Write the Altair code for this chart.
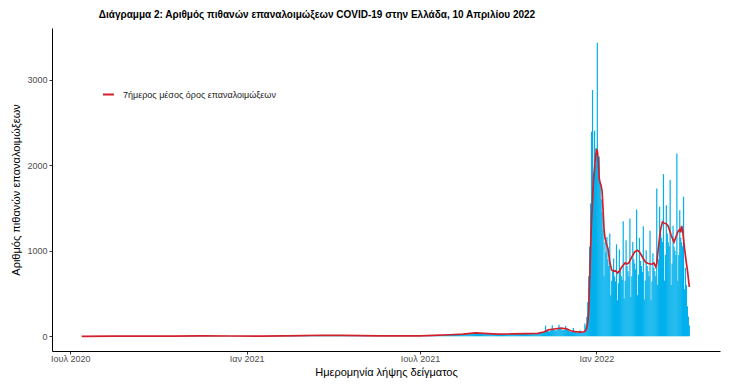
import altair as alt
import pandas as pd

# ---------------- data (daily counts) ----------------
jul_2020 = [0,0,1,0,1,0,0,0,1,0, 0,2,0,1,0,0,0,1,0,0, 1,0,0,2,1]          # from 7 Jul
aug_2020 = [0,1,0,2,1,0,0,1,0,3, 1,0,2,0,1,1,0,2,1,0, 0,1,3,1,0,2,1,0,1,2, 0]
sep_2020 = [1,2,0,1,3,1,0,2,1,0, 3,2,1,0,2,1,3,0,1,2, 0,1,3,2,0,1,2,1,0,3]
oct_2020 = [2,1,0,3,2,1,1,4,2,0, 1,3,2,1,4,2,0,1,3,2, 4,1,0,2,3,1,4,2,1,3, 2]
nov_2020 = [3,2,4,1,5,3,2,4,6,3, 1,4,5,2,3,6,4,2,5,3, 4,6,2,3,5,4,2,3,5,3]
dec_2020 = [4,2,3,5,2,1,4,3,2,5, 3,1,2,4,3,1,2,3,4,2, 1,3,2,1,0,2,3,1,2,3, 1]
jan_2021 = [1,0,2,3,1,2,4,2,1,3, 2,1,3,4,2,1,3,2,4,3, 1,2,4,3,2,3,4,2,3,5, 2]
feb_2021 = [4,3,5,2,4,6,3,5,4,6, 3,5,7,4,6,5,8,4,6,7, 5,8,6,9,7,5,8,9]
mar_2021 = [10,7,12,9,11,8,13,10,12,9, 14,11,8,13,15,10,12,14,9,13, 16,11,12,15,10,14,13,9,12,15, 11]
apr_2021 = [13,10,14,12,9,15,11,13,10,12, 14,9,11,13,10,8,12,11,9,10, 8,11,9,7,10,8,9,7,8,6]
may_2021 = [7,5,8,6,4,7,5,6,8,4, 5,7,6,3,5,6,4,5,7,3, 4,6,5,3,4,5,2,4,6,3, 4]
jun_2021 = [3,4,2,5,3,2,4,3,5,2, 3,4,2,3,5,4,2,3,4,5, 3,4,6,3,5,4,6,5,4,6]
jul_2021 = [5,7,6,4,8,9,7,10,8,11, 9,12,10,14,11,13,15,12,10,16, 14,17,13,15,18,14,16,19,15,17, 20]
aug_2021 = [18,22,19,25,21,24,20,26,23,28, 22,27,25,30,24,28,31,26,29,33, 27,32,35,30,38,42,36,40,45,38, 41]
sep_2021 = [36,40,33,37,30,35,32,28,34,30, 26,31,29,25,30,27,24,28,26,22, 27,25,21,26,23,20,25,22,24,27]
oct_2021 = [25,28,22,26,30,24,27,29,23,31, 27,25,32,28,24,30,33,26,29,35, 28,31,27,34,30,36,29,33,38,31, 35]
nov_2021 = [38,45,40,36,42,50,48,60,125,70, 65,58,55,62,80,130,85,78,70,66, 72,88,135,90,84,76,70,74,82,120]
dec_2021 = [85,72,65,58,50,55,62,98,60,52, 45,42,40,48,70,50,45,40,38,150,
            120,226,400,700,1045,1550,2390,2877,1900,2400, 2000]
jan_2022 = [2200,3430,2080,2100,1790,1600,1450,1245,700,1100,
            980,1160,900,820,1200,480,650,760,908,700,
            640,1075,420,620,1014,780,700,660,1345,440, 650]
feb_2022 = [1123,820,760,700,1376,460,700,1103,900,850,
            780,1482,480,720,1150,880,820,750,1286,430,
            650,1005,820,760,700,1232,420,640]
mar_2022 = [970,800,760,700,1727,600,900,1512,1200,1150,
            1100,1895,650,950,1532,1200,1100,1050,1825,600,
            850,1290,1050,1000,950,2137,650,950,1474,1150, 1100]
apr_2022 = [1050,1630,550,800,600,350,230,130]

month_starts = [
    ("2020-07-07", jul_2020), ("2020-08-01", aug_2020), ("2020-09-01", sep_2020),
    ("2020-10-01", oct_2020), ("2020-11-01", nov_2020), ("2020-12-01", dec_2020),
    ("2021-01-01", jan_2021), ("2021-02-01", feb_2021), ("2021-03-01", mar_2021),
    ("2021-04-01", apr_2021), ("2021-05-01", may_2021), ("2021-06-01", jun_2021),
    ("2021-07-01", jul_2021), ("2021-08-01", aug_2021), ("2021-09-01", sep_2021),
    ("2021-10-01", oct_2021), ("2021-11-01", nov_2021), ("2021-12-01", dec_2021),
    ("2022-01-01", jan_2022), ("2022-02-01", feb_2022), ("2022-03-01", mar_2022),
    ("2022-04-01", apr_2022),
]

# 7-day average line
red_dates = [
    "2020-07-13", "2020-08-15", "2020-09-15", "2020-10-15", "2020-11-15", "2020-12-15",
    "2021-01-15", "2021-02-10", "2021-03-01", "2021-03-20", "2021-04-10", "2021-04-30",
    "2021-05-20", "2021-06-15", "2021-07-01", "2021-07-15", "2021-08-01", "2021-08-15",
    "2021-08-28", "2021-09-05", "2021-09-20", "2021-10-05", "2021-10-20", "2021-11-01",
    "2021-11-07", "2021-11-12", "2021-11-18", "2021-11-25", "2021-12-01", "2021-12-05",
    "2021-12-10", "2021-12-15", "2021-12-19", "2021-12-21", "2021-12-22", "2021-12-23",
    "2021-12-24", "2021-12-25", "2021-12-26", "2021-12-27", "2021-12-28", "2021-12-29",
    "2021-12-30", "2021-12-31", "2022-01-01", "2022-01-02", "2022-01-03", "2022-01-04",
    "2022-01-05", "2022-01-06", "2022-01-07", "2022-01-08", "2022-01-09", "2022-01-10",
    "2022-01-11", "2022-01-12", "2022-01-13", "2022-01-14", "2022-01-15", "2022-01-16",
    "2022-01-17", "2022-01-19", "2022-01-21", "2022-01-23", "2022-01-25", "2022-01-27",
    "2022-01-29", "2022-01-31", "2022-02-02", "2022-02-04", "2022-02-07", "2022-02-10",
    "2022-02-13", "2022-02-15", "2022-02-17", "2022-02-21", "2022-02-24", "2022-02-28",
    "2022-03-02", "2022-03-04", "2022-03-05", "2022-03-06", "2022-03-07", "2022-03-08",
    "2022-03-09", "2022-03-11", "2022-03-13", "2022-03-15", "2022-03-17", "2022-03-20",
    "2022-03-23", "2022-03-25", "2022-03-27", "2022-03-29", "2022-03-30", "2022-03-31",
    "2022-04-01", "2022-04-03", "2022-04-05", "2022-04-06", "2022-04-08",
]
red_values = [
    0, 1, 1, 2, 4, 3,
    2, 4, 8, 12, 11, 8,
    5, 4, 5, 11, 18, 26,
    40, 35, 26, 27, 30, 35,
    50, 75, 85, 95, 88, 65,
    55, 48, 50, 70, 100, 160,
    300, 650, 1050, 1350, 1600, 1830,
    1950, 2080, 2180, 2170, 2050, 1840,
    1790, 1760, 1690, 1480, 1250, 1150,
    1100, 1060, 1030, 950, 870, 820,
    775, 760, 765, 740, 760, 800,
    830, 857, 845, 860, 927, 986,
    1005, 985, 947, 869, 850, 842,
    857, 810, 850, 960, 1060, 1160,
    1250, 1337, 1320, 1315, 1286, 1180,
    1100, 1160, 1220, 1250, 1215, 1290,
    1240, 1025, 850, 772, 577,
]

series_name = "7ήμερος μέσος όρος επαναλοιμώξεων"
title_text = "Διάγραμμα 2: Αριθμός πιθανών επαναλοιμώξεων COVID-19 στην Ελλάδα, 10 Απριλίου 2022"
y_title = "Αριθμός πιθανών επαναλοιμώξεων"
x_title = "Ημερομηνία λήψης δείγματος"

# ---------------- tables ----------------
rows = []
for start, arr in month_starts:
    days = pd.date_range(start, periods=len(arr), freq="D")
    for d, v in zip(days, arr):
        rows.append({
            "date": d.strftime("%Y-%m-%dT00:00:00"),
            "start": (d - pd.Timedelta(hours=15)).strftime("%Y-%m-%dT%H:%M:%S"),
            "end": (d + pd.Timedelta(hours=15)).strftime("%Y-%m-%dT%H:%M:%S"),
            "count": v,
        })
bars_df = pd.DataFrame(rows)
assert bars_df["date"].is_unique

red_df = pd.DataFrame({
    "date": [d + "T00:00:00" for d in red_dates],
    "value": red_values,
    "series": series_name,
})

FONT = "Liberation Sans"

x_scale = alt.Scale(domain=[alt.DateTime(year=2020, month=6, date=12),
                            alt.DateTime(year=2022, month=5, date=10)])
y_scale = alt.Scale(domain=[-172, 3602], nice=False, zero=False)

x_axis = alt.Axis(
    title=x_title,
    values=[alt.DateTime(year=2020, month=7, date=1), alt.DateTime(year=2021, month=1, date=1),
            alt.DateTime(year=2021, month=7, date=1), alt.DateTime(year=2022, month=1, date=1)],
    labelExpr="(month(datum.value) == 0 ? 'Ιαν ' : 'Ιουλ ') + year(datum.value)",
    grid=False,
)
y_axis = alt.Axis(title=y_title, values=[0, 1000, 2000, 3000], format="d", grid=False)

bars = alt.Chart(bars_df).mark_bar(color="#00B0EC").encode(
    x=alt.X("start:T", scale=x_scale, axis=x_axis),
    x2="end:T",
    y=alt.Y("count:Q", scale=y_scale, axis=y_axis),
    y2=alt.datum(0),
)

line = alt.Chart(red_df).mark_line(strokeWidth=1.7).encode(
    x=alt.X("date:T", scale=x_scale),
    y=alt.Y("value:Q", scale=y_scale),
    color=alt.Color(
        "series:N",
        scale=alt.Scale(domain=[series_name], range=["#D0202A"]),
        legend=alt.Legend(
            title=None, orient="none", legendX=50, legendY=60,
            symbolType="stroke", symbolStrokeWidth=2, symbolSize=120,
            labelFont=FONT, labelFontSize=9, labelColor="#1a1a1a", labelOffset=8,
        ),
    ),
)

chart = alt.layer(bars, line).properties(
    width=668,
    height=323,
    autosize=alt.AutoSizeParams(type="none"),
    padding={"left": 44, "top": 20, "right": 6, "bottom": 31},
    title=alt.TitleParams(
        title_text, anchor="middle", dx=-69, offset=8, font=FONT,
        fontSize=10, fontWeight="bold", color="black",
    ),
).configure_view(stroke=None).configure_axis(
    domainColor="black", domainWidth=1, tickColor="#333333", tickSize=3, tickWidth=1,
    labelFont=FONT, labelFontSize=9, labelColor="#4D4D4D", labelPadding=2,
    titleFont=FONT, titleFontSize=11, titleFontWeight="normal", titleColor="black",
).configure_axisY(titlePadding=5).configure_axisX(titlePadding=3, labelPadding=0)

chart.save("out.html", embed_options={"renderer": "svg", "actions": False})
